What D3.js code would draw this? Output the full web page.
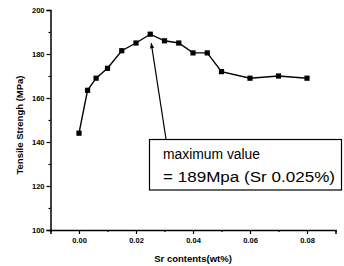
<!DOCTYPE html>
<html><head><meta charset="utf-8">
<script src="https://cdn.jsdelivr.net/npm/d3@7"></script>
<style>html,body{margin:0;padding:0;background:#fff;}svg{display:block;}</style>
</head><body>
<svg id="c" width="344" height="266"></svg>
<script>
const srContent = [0, 0.003, 0.006, 0.01, 0.015, 0.02, 0.025, 0.03, 0.035, 0.04, 0.045, 0.05, 0.06, 0.07, 0.08];
const tensile   = [144, 163.5, 169, 173.5, 181.5, 185, 189, 186, 185, 180.5, 180.5, 172, 169, 170, 169];
const xTicks = [0, 0.02, 0.04, 0.06, 0.08];
const yTicks = [100, 120, 140, 160, 180, 200];
const xLabel = "Sr contents(wt%)";
const yLabel = "Tensile Strengh (MPa)";
const noteLines = ["maximum value", "= 189Mpa (Sr 0.025%)"];
const peak = {x: 0.025, y: 189};

const svg = d3.select("#c");
const x = d3.scaleLinear().domain([-0.01, 0.09]).range([50.5, 335.5]);
const y = d3.scaleLinear().domain([100, 200]).range([230, 10]);
const font = "'Liberation Sans', Arial, sans-serif";

// axes
const xAxis = svg.append("g").attr("transform", `translate(0,${y(100)})`)
  .call(d3.axisBottom(x).tickValues(xTicks).tickFormat(d3.format(".2f")).tickSize(4).tickPadding(4));
const xMinor = svg.append("g").attr("transform", `translate(0,${y(100)})`)
  .call(d3.axisBottom(x).tickValues(d3.range(-0.01, 0.0901, 0.02).map(v=>+v.toFixed(3))).tickFormat("").tickSize(2));
const yAxis = svg.append("g").attr("transform", `translate(${x(-0.01)},0)`)
  .call(d3.axisLeft(y).tickValues(yTicks).tickSize(4).tickPadding(2));
const yMinor = svg.append("g").attr("transform", `translate(${x(-0.01)},0)`)
  .call(d3.axisLeft(y).tickValues(d3.range(110, 200, 20)).tickFormat("").tickSize(2));
[xAxis, xMinor, yAxis, yMinor].forEach(g => {
  g.select(".domain").attr("stroke", "#000").attr("stroke-width", 1.5);
  g.selectAll(".tick line").attr("stroke", "#000").attr("stroke-width", 1.2);
  g.selectAll("text").attr("font-family", font).attr("font-size", 7.5).attr("font-weight", "bold").attr("fill", "#000");
});
xMinor.select(".domain").remove();
yMinor.select(".domain").remove();

// axis labels
svg.append("text").attr("x", (x(-0.01)+x(0.09))/2).attr("y", 262).attr("text-anchor", "middle")
  .attr("font-family", font).attr("font-size", 9.5).attr("font-weight", "bold").text(xLabel);
svg.append("text").attr("transform", `translate(23,125) rotate(-90)`).attr("text-anchor", "middle")
  .attr("font-family", font).attr("font-size", 9.5).attr("font-weight", "bold").text(yLabel);

// line and markers
const data = srContent.map((d,i)=>({x:d, y:tensile[i]}));
svg.append("path").datum(data)
  .attr("d", d3.line().x(d=>x(d.x)).y(d=>y(d.y)))
  .attr("fill", "none").attr("stroke", "#000").attr("stroke-width", 1.4);
svg.selectAll("rect.pt").data(data).enter().append("rect").attr("class","pt")
  .attr("x", d=>x(d.x)-2.6).attr("y", d=>y(d.y)-2.6).attr("width", 5.2).attr("height", 5.2).attr("fill", "#000");

// annotation arrow
const tipX = x(peak.x)+1, tipY = y(peak.y)+9;
const endX = 166, endY = 139;
svg.append("line").attr("x1", endX).attr("y1", endY).attr("x2", tipX).attr("y2", tipY)
  .attr("stroke", "#000").attr("stroke-width", 1.2);
const ang = Math.atan2(tipY-endY, tipX-endX);
const ah = 5, aw = 2.2;
const bx = tipX - ah*Math.cos(ang), by = tipY - ah*Math.sin(ang);
svg.append("path").attr("d", `M${tipX},${tipY}L${bx + aw*Math.sin(ang)},${by - aw*Math.cos(ang)}L${bx - aw*Math.sin(ang)},${by + aw*Math.cos(ang)}Z`)
  .attr("fill", "#000");

// annotation box
svg.append("rect").attr("x", 149.5).attr("y", 139.5).attr("width", 192).attr("height", 50.5)
  .attr("fill", "#fff").attr("stroke", "#000").attr("stroke-width", 1.2);
svg.append("text").attr("x", 163).attr("y", 159).attr("font-family", font).attr("font-size", 15.5)
  .attr("textLength", 97).attr("lengthAdjust", "spacingAndGlyphs").text(noteLines[0]);
svg.append("text").attr("x", 163).attr("y", 181.5).attr("font-family", font).attr("font-size", 15.5)
  .attr("textLength", 172).attr("lengthAdjust", "spacingAndGlyphs").text(noteLines[1]);
</script>
</body></html>
